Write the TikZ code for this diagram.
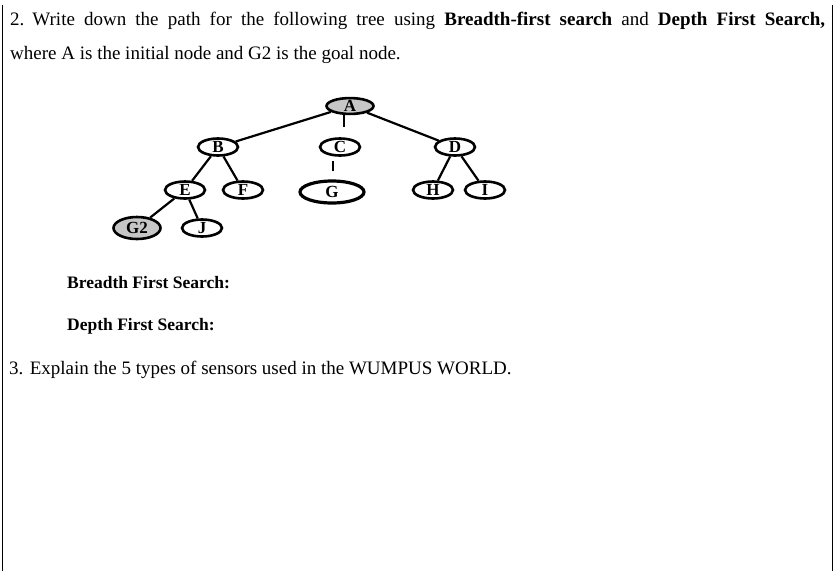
\documentclass[tikz,border=0pt]{standalone}
\usepackage{fontspec}
\setmainfont{Liberation Serif}
\usetikzlibrary{shapes.geometric}
\begin{document}
\begin{tikzpicture}[x=1pt,y=-1pt,
  txt/.style={anchor=base west,inner sep=0pt,font=\fontsize{19}{21}\selectfont},
  tn/.style={ellipse,draw,line width=2.6pt,inner sep=0pt,minimum width=40pt,minimum height=17pt,font=\bfseries\fontsize{17}{17}\selectfont},
  gr/.style={fill=gray!45},
  edge/.style={line width=2.2pt}]
\useasboundingbox (0,0) rectangle (837,571);
\draw[line width=0.8pt] (2,5) -- (2,571);
\draw[line width=0.8pt] (832,5) -- (832,571);
\node[txt] (l1) at (10,25) {\makebox[815pt][s]{2.\hspace{8pt}Write down the path for the following tree using \textbf{Breadth-first search} and \textbf{Depth First Search,}}};
\node[txt] (l2) at (10,59) {where A is the initial node and G2 is the goal node.};
\node[tn,gr,minimum width=47pt,minimum height=15pt] (A) at (350,106) {A};
\node[tn] (B) at (218,147) {B};
\node[tn] (C) at (340,147) {C};
\node[tn] (D) at (455,147) {D};
\node[tn] (E) at (185,190) {E};
\node[tn] (F) at (243,190) {F};
\node[tn,minimum width=64pt,minimum height=22pt,line width=3.2pt] (G) at (332,192) {G};
\node[tn] (H) at (433,190) {H};
\node[tn] (I) at (485,190) {I};
\node[tn,gr,minimum width=47pt,minimum height=22pt] (G2) at (137,228) {G2};
\node[tn] (J) at (202,228) {J};
\draw[edge] (A) -- (B);
\draw[edge] (A) -- (D);
\draw[edge] (A.south) ++(-6,0) coordinate (a1) -- ++(0,12) coordinate (a2);
\draw[edge] (B) -- (E);
\draw[edge] (B) -- (F);
\draw[edge] (C.south) ++(-7,4) coordinate (c1) -- ++(0,10) coordinate (c2);
\draw[edge] (D) -- (H);
\draw[edge] (D) -- (I);
\draw[edge] (E) -- (G2);
\draw[edge] (E) -- (J);
\node[txt,font=\bfseries\fontsize{17.5}{20}\selectfont] (bfs) at (67,288) {Breadth First Search:};
\node[txt,font=\bfseries\fontsize{17.5}{20}\selectfont] (dfs) at (67,330) {Depth First Search:};
\node[txt] (q3) at (9,374) {3. Explain the 5 types of sensors used in the WUMPUS WORLD.};
\end{tikzpicture}
\end{document}
